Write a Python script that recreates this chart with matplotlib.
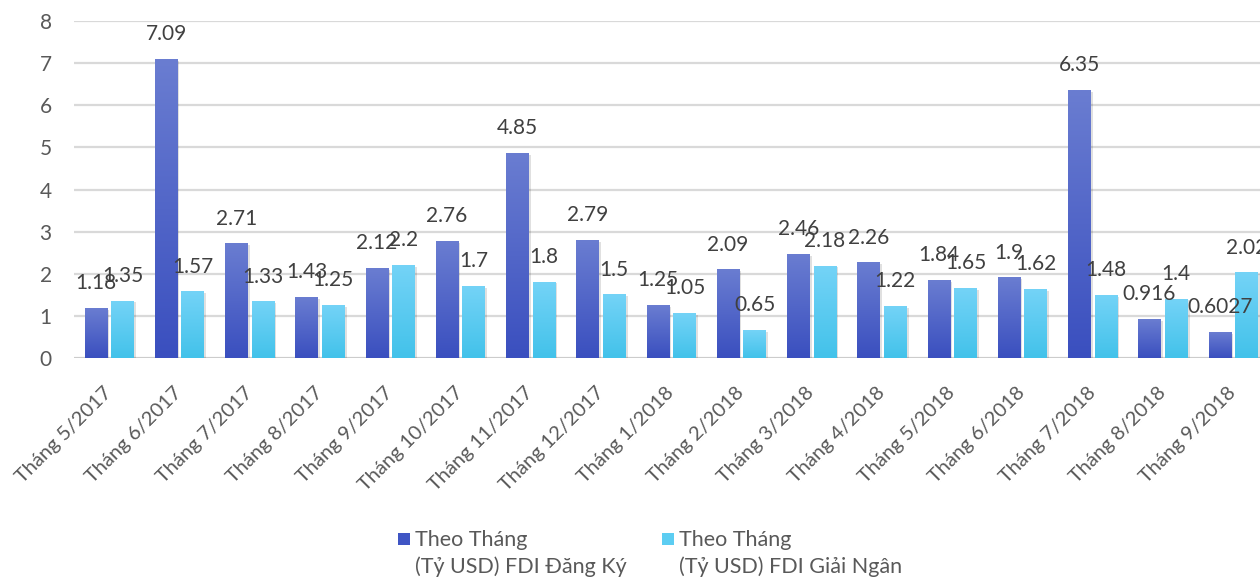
import numpy as np
import matplotlib
matplotlib.use("Agg")
import matplotlib.pyplot as plt
from matplotlib.colors import LinearSegmentedColormap
from matplotlib.patches import Rectangle

plt.rcParams['font.family'] = ['Lato', 'DejaVu Sans']

months = ["Tháng 5/2017", "Tháng 6/2017", "Tháng 7/2017", "Tháng 8/2017",
          "Tháng 9/2017", "Tháng 10/2017", "Tháng 11/2017", "Tháng 12/2017",
          "Tháng 1/2018", "Tháng 2/2018", "Tháng 3/2018", "Tháng 4/2018",
          "Tháng 5/2018", "Tháng 6/2018", "Tháng 7/2018", "Tháng 8/2018",
          "Tháng 9/2018"]
dang_ky = [1.18, 7.09, 2.71, 1.43, 2.12, 2.76, 4.85, 2.79, 1.25, 2.09,
           2.46, 2.26, 1.84, 1.9, 6.35, 0.916, 0.6027]
giai_ngan = [1.35, 1.57, 1.33, 1.25, 2.2, 1.7, 1.8, 1.5, 1.05, 0.65,
             2.18, 1.22, 1.65, 1.62, 1.48, 1.4, 2.02]
legend_labels = ["Theo Tháng\n(Tỷ USD) FDI Đăng Ký",
                 "Theo Tháng\n(Tỷ USD) FDI Giải Ngân"]

dark_cmap = LinearSegmentedColormap.from_list("dk", ["#3a4fbf", "#6a7dd1"])
light_cmap = LinearSegmentedColormap.from_list("lt", ["#42c2ea", "#74d3f7"])
grad = np.linspace(0, 1, 256).reshape(-1, 1)

fig = plt.figure(figsize=(12.6, 5.79), dpi=100)
ax = fig.add_axes([74 / 1260, 221 / 579, 17 * 70.25 / 1260, 337 / 579])

x = np.arange(len(months))
width = 0.32
offset = 0.19

for series, cmap, shift in [(dang_ky, dark_cmap, -offset), (giai_ngan, light_cmap, offset)]:
    bars = ax.bar(x + shift, series, width, color="none", zorder=3)
    for b, v in zip(bars, series):
        x0 = b.get_x()
        # soft shadow
        ax.add_patch(Rectangle((x0 + 0.03, -0.03), width, v, color="#000000",
                               alpha=0.12, lw=0, zorder=2))
        ax.imshow(grad, extent=[x0, x0 + width, 0, v], origin="lower",
                  cmap=cmap, aspect="auto", zorder=3)
        ax.annotate(str(v), (x0 + width / 2, v), xytext=(0, 11),
                    textcoords="offset points", ha="center", va="bottom",
                    fontsize=15, color="#404040", zorder=4)

ax.set_xlim(-0.5, len(months) - 0.5)
ax.set_ylim(0, 8)
ax.set_yticks(range(0, 9))
ax.yaxis.grid(True, color="#d9d9d9", lw=1.6, zorder=0)
ax.set_axisbelow(True)
for s in ax.spines.values():
    s.set_visible(False)
ax.axhline(0, color="#c8c8c8", lw=1.8, zorder=1)

ax.set_xticks(x)
ax.set_xticklabels(months, rotation=45, ha="right", va="center",
                   rotation_mode="anchor", fontsize=14.5, color="#595959")
ax.tick_params(axis="x", length=0, pad=23)
ax.tick_params(axis="y", length=0, pad=16, labelsize=15, labelcolor="#595959")

# legend drawn as squares with two-line labels
for lx, lab, col in [(398, legend_labels[0], "#3f55c4"), (662, legend_labels[1], "#5ccdf2")]:
    fig.add_artist(Rectangle((lx / 1260, 1 - 545 / 579), 12 / 1260, 12 / 579,
                             transform=fig.transFigure, color=col, lw=0))
    fig.text((lx + 17) / 1260, 1 - 530 / 579, lab, fontsize=15.5, color="#595959",
             va="top", ha="left", linespacing=1.4)

fig.savefig("out.png", dpi=100)
